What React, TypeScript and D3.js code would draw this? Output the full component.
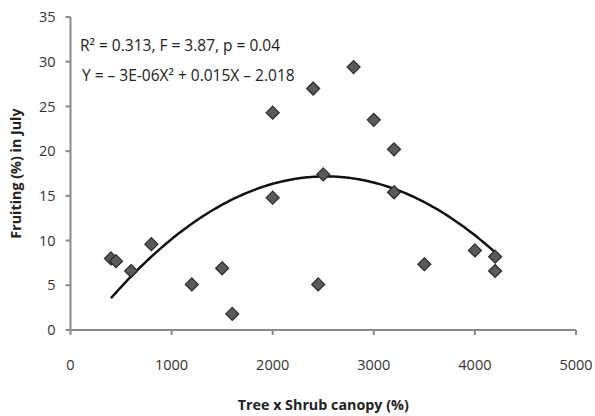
import React from 'react'
import * as d3 from 'd3'

// canopy (%) and fruiting in July (%)
const canopy = [400, 450, 600, 800, 1200, 1500, 1600, 2000, 2000, 2400, 2450, 2500, 2800, 3000, 3200, 3200, 3500, 4000, 4200, 4200]
const fruiting = [8.0, 7.7, 6.6, 9.6, 5.1, 6.9, 1.8, 24.3, 14.8, 27.0, 5.1, 17.4, 29.4, 23.5, 20.2, 15.4, 7.35, 8.9, 8.2, 6.6]

const xTicks = [0, 1000, 2000, 3000, 4000, 5000]
const yTicks = [0, 5, 10, 15, 20, 25, 30, 35]

const statsText = 'R² = 0.313, F = 3.87, p = 0.04'
const eqText = 'Y = – 3E-06X² + 0.015X – 2.018'

// least squares quadratic fit (the trendline)
const fitQuadratic = (xs: number[], ys: number[]) => {
  const s = [0, 0, 0, 0, 0]
  const t = [0, 0, 0]
  xs.forEach((x, i) => {
    for (let k = 0; k < 5; k++) s[k] += Math.pow(x, k)
    for (let k = 0; k < 3; k++) t[k] += ys[i] * Math.pow(x, k)
  })
  const m = [
    [s[0], s[1], s[2], t[0]],
    [s[1], s[2], s[3], t[1]],
    [s[2], s[3], s[4], t[2]],
  ]
  for (let i = 0; i < 3; i++) {
    for (let j = i + 1; j < 3; j++) {
      const f = m[j][i] / m[i][i]
      for (let k = i; k < 4; k++) m[j][k] -= f * m[i][k]
    }
  }
  const c = [0, 0, 0]
  for (let i = 2; i >= 0; i--) {
    let v = m[i][3]
    for (let k = i + 1; k < 3; k++) v -= m[i][k] * c[k]
    c[i] = v / m[i][i]
  }
  return (x: number) => c[0] + c[1] * x + c[2] * x * x
}

const App = () => {
  const width = 595
  const height = 416
  const margin = { top: 17, right: 19, bottom: 86, left: 70.5 }
  const innerW = width - margin.left - margin.right
  const innerH = height - margin.top - margin.bottom

  const x = d3.scaleLinear().domain([0, 5000]).range([0, innerW])
  const y = d3.scaleLinear().domain([0, 35]).range([innerH, 0])

  const trend = fitQuadratic(canopy, fruiting)
  const [xmin, xmax] = d3.extent(canopy) as [number, number]
  const curvePts = d3.range(xmin, xmax + 1, 25).map(v => [v, trend(v)] as [number, number])
  const line = d3.line<[number, number]>()
    .x(d => x(d[0]))
    .y(d => y(d[1]))
    .curve(d3.curveBasis)

  const diamond = (cx: number, cy: number, r: number) =>
    `M${cx},${cy - r}L${cx + r},${cy}L${cx},${cy + r}L${cx - r},${cy}Z`

  const font = "'Open Sans', 'Noto Sans', sans-serif"
  const axisColor = '#8a8a8a'

  return (
    <svg width={width} height={height} style={{ position: 'absolute', left: 0, top: 0, background: '#fff' }}
      fontFamily={font}>
      <g transform={`translate(${margin.left},${margin.top})`}>
        {/* axes */}
        <line x1={0} x2={0} y1={0} y2={innerH} stroke={axisColor} strokeWidth={2} />
        <line x1={0} x2={innerW} y1={innerH} y2={innerH} stroke={axisColor} strokeWidth={2} />
        {yTicks.map(t => (
          <g key={`y${t}`}>
            <line x1={-5} x2={0} y1={y(t)} y2={y(t)} stroke={axisColor} strokeWidth={2} />
            <text x={-15} y={y(t)} dy='0.35em' textAnchor='end' fontSize={14.5} fill='#333'>{t}</text>
          </g>
        ))}
        {xTicks.map(t => (
          <g key={`x${t}`}>
            <line x1={x(t)} x2={x(t)} y1={innerH} y2={innerH + 5} stroke={axisColor} strokeWidth={2} />
            <text x={x(t)} y={innerH + 35} dy='0.35em' textAnchor='middle' fontSize={14.5} fill='#333'>{t}</text>
          </g>
        ))}

        {/* trendline */}
        <path d={line(curvePts) || ''} fill='none' stroke='#111' strokeWidth={2.5} />

        {/* points */}
        {canopy.map((c, i) => (
          <path key={i} d={diamond(x(c), y(fruiting[i]), 6.5)} fill='#5a5a5a' stroke='#2a2a2a' strokeWidth={1.2} />
        ))}

        {/* annotation */}
        <text x={80 - margin.left} y={46 - margin.top} dy='0.35em' fontSize={15.5} fill='#222'>{statsText}</text>
        <text x={82 - margin.left} y={76 - margin.top} dy='0.35em' fontSize={15.5} fill='#222'>{eqText}</text>
      </g>

      {/* axis titles */}
      <text x={margin.left + innerW / 2} y={405} dy='0.35em' textAnchor='middle' fontSize={14.3} fontWeight='bold' fill='#222'>
        Tree x Shrub canopy (%)
      </text>
      <text transform={`translate(16,${margin.top + innerH / 2}) rotate(-90)`} dy='0.35em' textAnchor='middle'
        fontSize={14.3} fontWeight='bold' fill='#222'>
        Fruiting (%) in July
      </text>
    </svg>
  )
}

export default App
